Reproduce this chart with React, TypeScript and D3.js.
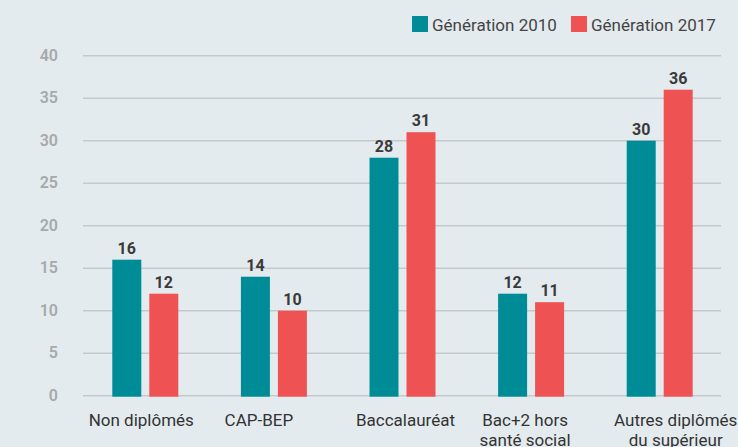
import React from "react";
import * as d3 from "d3";

const categories = ["Non diplômés", "CAP-BEP", "Baccalauréat", "Bac+2 hors|santé social", "Autres diplômés|du supérieur"];
const series = ["Génération 2010", "Génération 2017"];
const values2010 = [16, 14, 28, 12, 30];
const values2017 = [12, 10, 31, 11, 36];
const yTicks = [0, 5, 10, 15, 20, 25, 30, 35, 40];

const W = 738;
const H = 447;
const colors = ["#008c96", "#ee5253"];
const labelNudge = [-4, -15, 3, -6, 16];

export default function App() {
  const x = d3.scaleBand<string>().domain(categories).range([81, 724]).padding(0);
  const inner = d3.scaleBand<string>().domain(series).range([-33, 33]).paddingInner(0.216);
  const y = d3.scaleLinear().domain([0, 40]).range([395.7, 55.7]);
  const data = [values2010, values2017];
  const font = "Roboto, 'Noto Sans', sans-serif";

  return (
    <svg width={W} height={H} style={{ position: "absolute", left: 0, top: 0, background: "#e4ebee" }} fontFamily={font}>
      <rect x={0} y={0} width={W} height={H} fill="#e4ebee" />
      {yTicks.map((t) => (
        <g key={t}>
          <line x1={83} x2={721} y1={y(t)} y2={y(t)} stroke="#c5c9cb" strokeWidth={1.5} />
          <text x={58} y={y(t) + 5} textAnchor="end" fontSize={16} fontWeight={600} fill="#a7a9aa">{t}</text>
        </g>
      ))}
      {categories.map((c, ci) => {
        const cx = (x(c) as number) + x.bandwidth() / 2;
        return (
          <g key={c}>
            {series.map((s, si) => {
              const v = data[si][ci];
              const bx = cx + (inner(s) as number);
              return (
                <g key={s}>
                  <rect x={bx} y={y(v)} width={inner.bandwidth()} height={y(0) - y(v) + 1} fill={colors[si]} />
                  <text x={bx + inner.bandwidth() / 2} y={y(v) - 6} textAnchor="middle" fontSize={16} fontWeight={700} fill="#3a3a3a">{v}</text>
                </g>
              );
            })}
            {c.split("|").map((line, li) => (
              <text key={li} x={cx + labelNudge[ci]} y={425.5 + li * 20} textAnchor="middle" fontSize={17} fill="#333">{line}</text>
            ))}
          </g>
        );
      })}
      <g>
        <rect x={412} y={16} width={16} height={16} fill={colors[0]} />
        <text x={432} y={31} fontSize={17} fill="#444">{series[0]}</text>
        <rect x={571} y={16} width={16} height={16} fill={colors[1]} />
        <text x={591} y={31} fontSize={17} fill="#444">{series[1]}</text>
      </g>
    </svg>
  );
}
